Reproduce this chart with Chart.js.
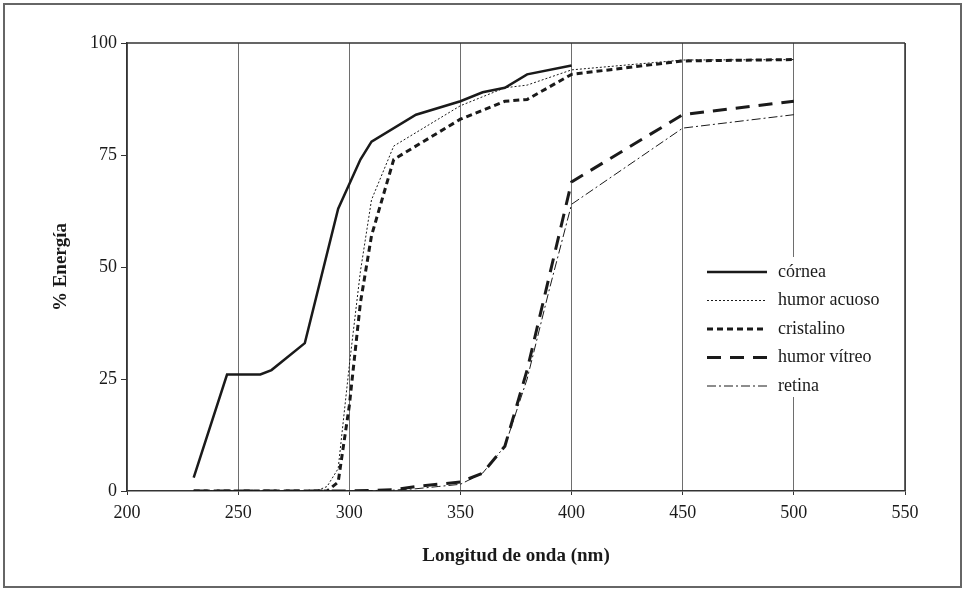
<!DOCTYPE html>
<html>
<head>
<meta charset="utf-8">
<script src="https://cdn.jsdelivr.net/npm/chart.js@4.4.1/dist/chart.umd.min.js"></script>
<style>
  html, body { margin: 0; padding: 0; background: #fff; }
  #wrap { width: 965px; height: 589px; }
</style>
</head>
<body>
<div id="wrap"><canvas id="grafico"></canvas></div>
<script>
// ===========================
// Datos
// ===========================
const nombres = ['córnea', 'humor acuoso', 'cristalino', 'humor vítreo', 'retina'];

const ondaCornea = [230, 245, 260, 265, 280, 295, 305, 310, 330, 350, 360, 370, 380, 400];
const cornea     = [3, 26, 26, 27, 33, 63, 74, 78, 84, 87, 89, 90, 93, 95];

const ondaAcuoso = [230, 285, 290, 295, 300, 305, 310, 320, 330, 350, 370, 380, 400, 450, 500];
const acuoso     = [0, 0, 1, 5, 28, 49, 65, 77, 80, 86, 90, 90.6, 94, 96.2, 96.3];

const ondaCristalino = [230, 290, 295, 300, 305, 310, 320, 350, 370, 380, 400, 450, 500];
const cristalino     = [0, 0, 2, 19, 42, 57, 74, 83, 87, 87.4, 93, 96, 96.3];

const ondaVitreo = [230, 300, 320, 330, 340, 350, 360, 370, 380, 390, 400, 450, 500];
const vitreo     = [0, 0, 0.3, 1, 1.5, 2, 4, 10, 27, 48, 69, 84, 87];

const ondaRetina = [230, 300, 320, 330, 340, 350, 360, 370, 380, 390, 400, 450, 500];
const retina     = [0, 0, 0.2, 0.5, 1, 1.5, 4, 10, 25, 45, 64, 81, 84];

const ticksX = [200, 250, 300, 350, 400, 450, 500, 550];
const ticksY = [0, 25, 50, 75, 100];

const serif = '"Liberation Serif", "DejaVu Serif", serif';
const tinta = '#1a1a1a';

function puntos(xs, ys) {
    return xs.map((x, i) => ({ x: x, y: ys[i] }));
}

// estilos de línea de cada serie
const estilos = [
    { borderWidth: 2.5, borderDash: [] },
    { borderWidth: 1, borderDash: [2, 2] },
    { borderWidth: 3, borderDash: [6, 4] },
    { borderWidth: 3, borderDash: [14, 9] },
    { borderWidth: 1, borderDash: [9, 3, 2, 3] }
];

const series = [
    puntos(ondaCornea, cornea),
    puntos(ondaAcuoso, acuoso),
    puntos(ondaCristalino, cristalino),
    puntos(ondaVitreo, vitreo),
    puntos(ondaRetina, retina)
];

// ===========================
// Plugin: marco, borde y leyenda
// ===========================
const marco = {
    id: 'marco',
    afterDraw(chart) {
        const ctx = chart.ctx;
        const a = chart.chartArea;
        ctx.save();
        // marco exterior
        ctx.strokeStyle = '#666';
        ctx.lineWidth = 2;
        ctx.strokeRect(4, 4, 957, 583);
        // borde superior y derecho del área
        ctx.strokeStyle = '#333';
        ctx.lineWidth = 1.5;
        ctx.beginPath();
        ctx.moveTo(a.left, a.top);
        ctx.lineTo(a.right, a.top);
        ctx.moveTo(a.right, a.top);
        ctx.lineTo(a.right, a.bottom);
        ctx.stroke();

        // leyenda
        const lx = 700, ly = 257, lw = 180, lh = 140;
        ctx.fillStyle = '#fff';
        ctx.fillRect(lx, ly, lw, lh);
        ctx.font = '18px ' + serif;
        ctx.textBaseline = 'middle';
        chart.data.datasets.forEach((ds, i) => {
            const y = 272 + i * 28.5;
            ctx.strokeStyle = tinta;
            ctx.lineWidth = ds.borderWidth;
            ctx.setLineDash(ds.borderDash);
            ctx.beginPath();
            ctx.moveTo(707, y);
            ctx.lineTo(767, y);
            ctx.stroke();
            ctx.setLineDash([]);
            ctx.fillStyle = tinta;
            ctx.fillText(ds.label, 778, y);
        });
        ctx.restore();
    }
};

// ===========================
// Gráfico
// ===========================
const ctx = document.getElementById('grafico').getContext('2d');
new Chart(ctx, {
    type: 'line',
    data: {
        datasets: series.map((s, i) => ({
            label: nombres[i],
            data: s,
            borderColor: tinta,
            borderWidth: estilos[i].borderWidth,
            borderDash: estilos[i].borderDash,
            pointRadius: 0,
            tension: 0,
            fill: false
        }))
    },
    options: {
        responsive: true,
        maintainAspectRatio: false,
        animation: false,
        events: [],
        layout: { padding: { left: 0, right: 60, top: 43, bottom: 0 } },
        plugins: {
            legend: { display: false },
            tooltip: { enabled: false }
        },
        scales: {
            x: {
                type: 'linear',
                min: 200,
                max: 550,
                afterBuildTicks: s => { s.ticks = ticksX.map(v => ({ value: v })); },
                afterFit: s => { s.height = 98; },
                grid: {
                    color: '#6e6e6e',
                    lineWidth: 1,
                    tickLength: 4,
                    tickColor: '#333'
                },
                border: { color: '#333', width: 1.5 },
                ticks: {
                    color: tinta,
                    font: { family: serif, size: 18 },
                    padding: 7
                },
                title: {
                    display: true,
                    text: 'Longitud de onda (nm)',
                    color: tinta,
                    font: { family: serif, size: 19, weight: 'bold' },
                    padding: { bottom: 22 }
                }
            },
            y: {
                min: 0,
                max: 100,
                afterBuildTicks: s => { s.ticks = ticksY.map(v => ({ value: v })); },
                afterFit: s => { s.width = 127; },
                grid: {
                    drawOnChartArea: false,
                    tickLength: 6,
                    tickColor: '#333'
                },
                border: { color: '#333', width: 1.5 },
                ticks: {
                    color: tinta,
                    font: { family: serif, size: 18 },
                    padding: 4
                },
                title: {
                    display: true,
                    text: '% Energía',
                    color: tinta,
                    font: { family: serif, size: 19, weight: 'bold' },
                    padding: { top: 50 }
                }
            }
        }
    },
    plugins: [marco]
});
</script>
</body>
</html>
